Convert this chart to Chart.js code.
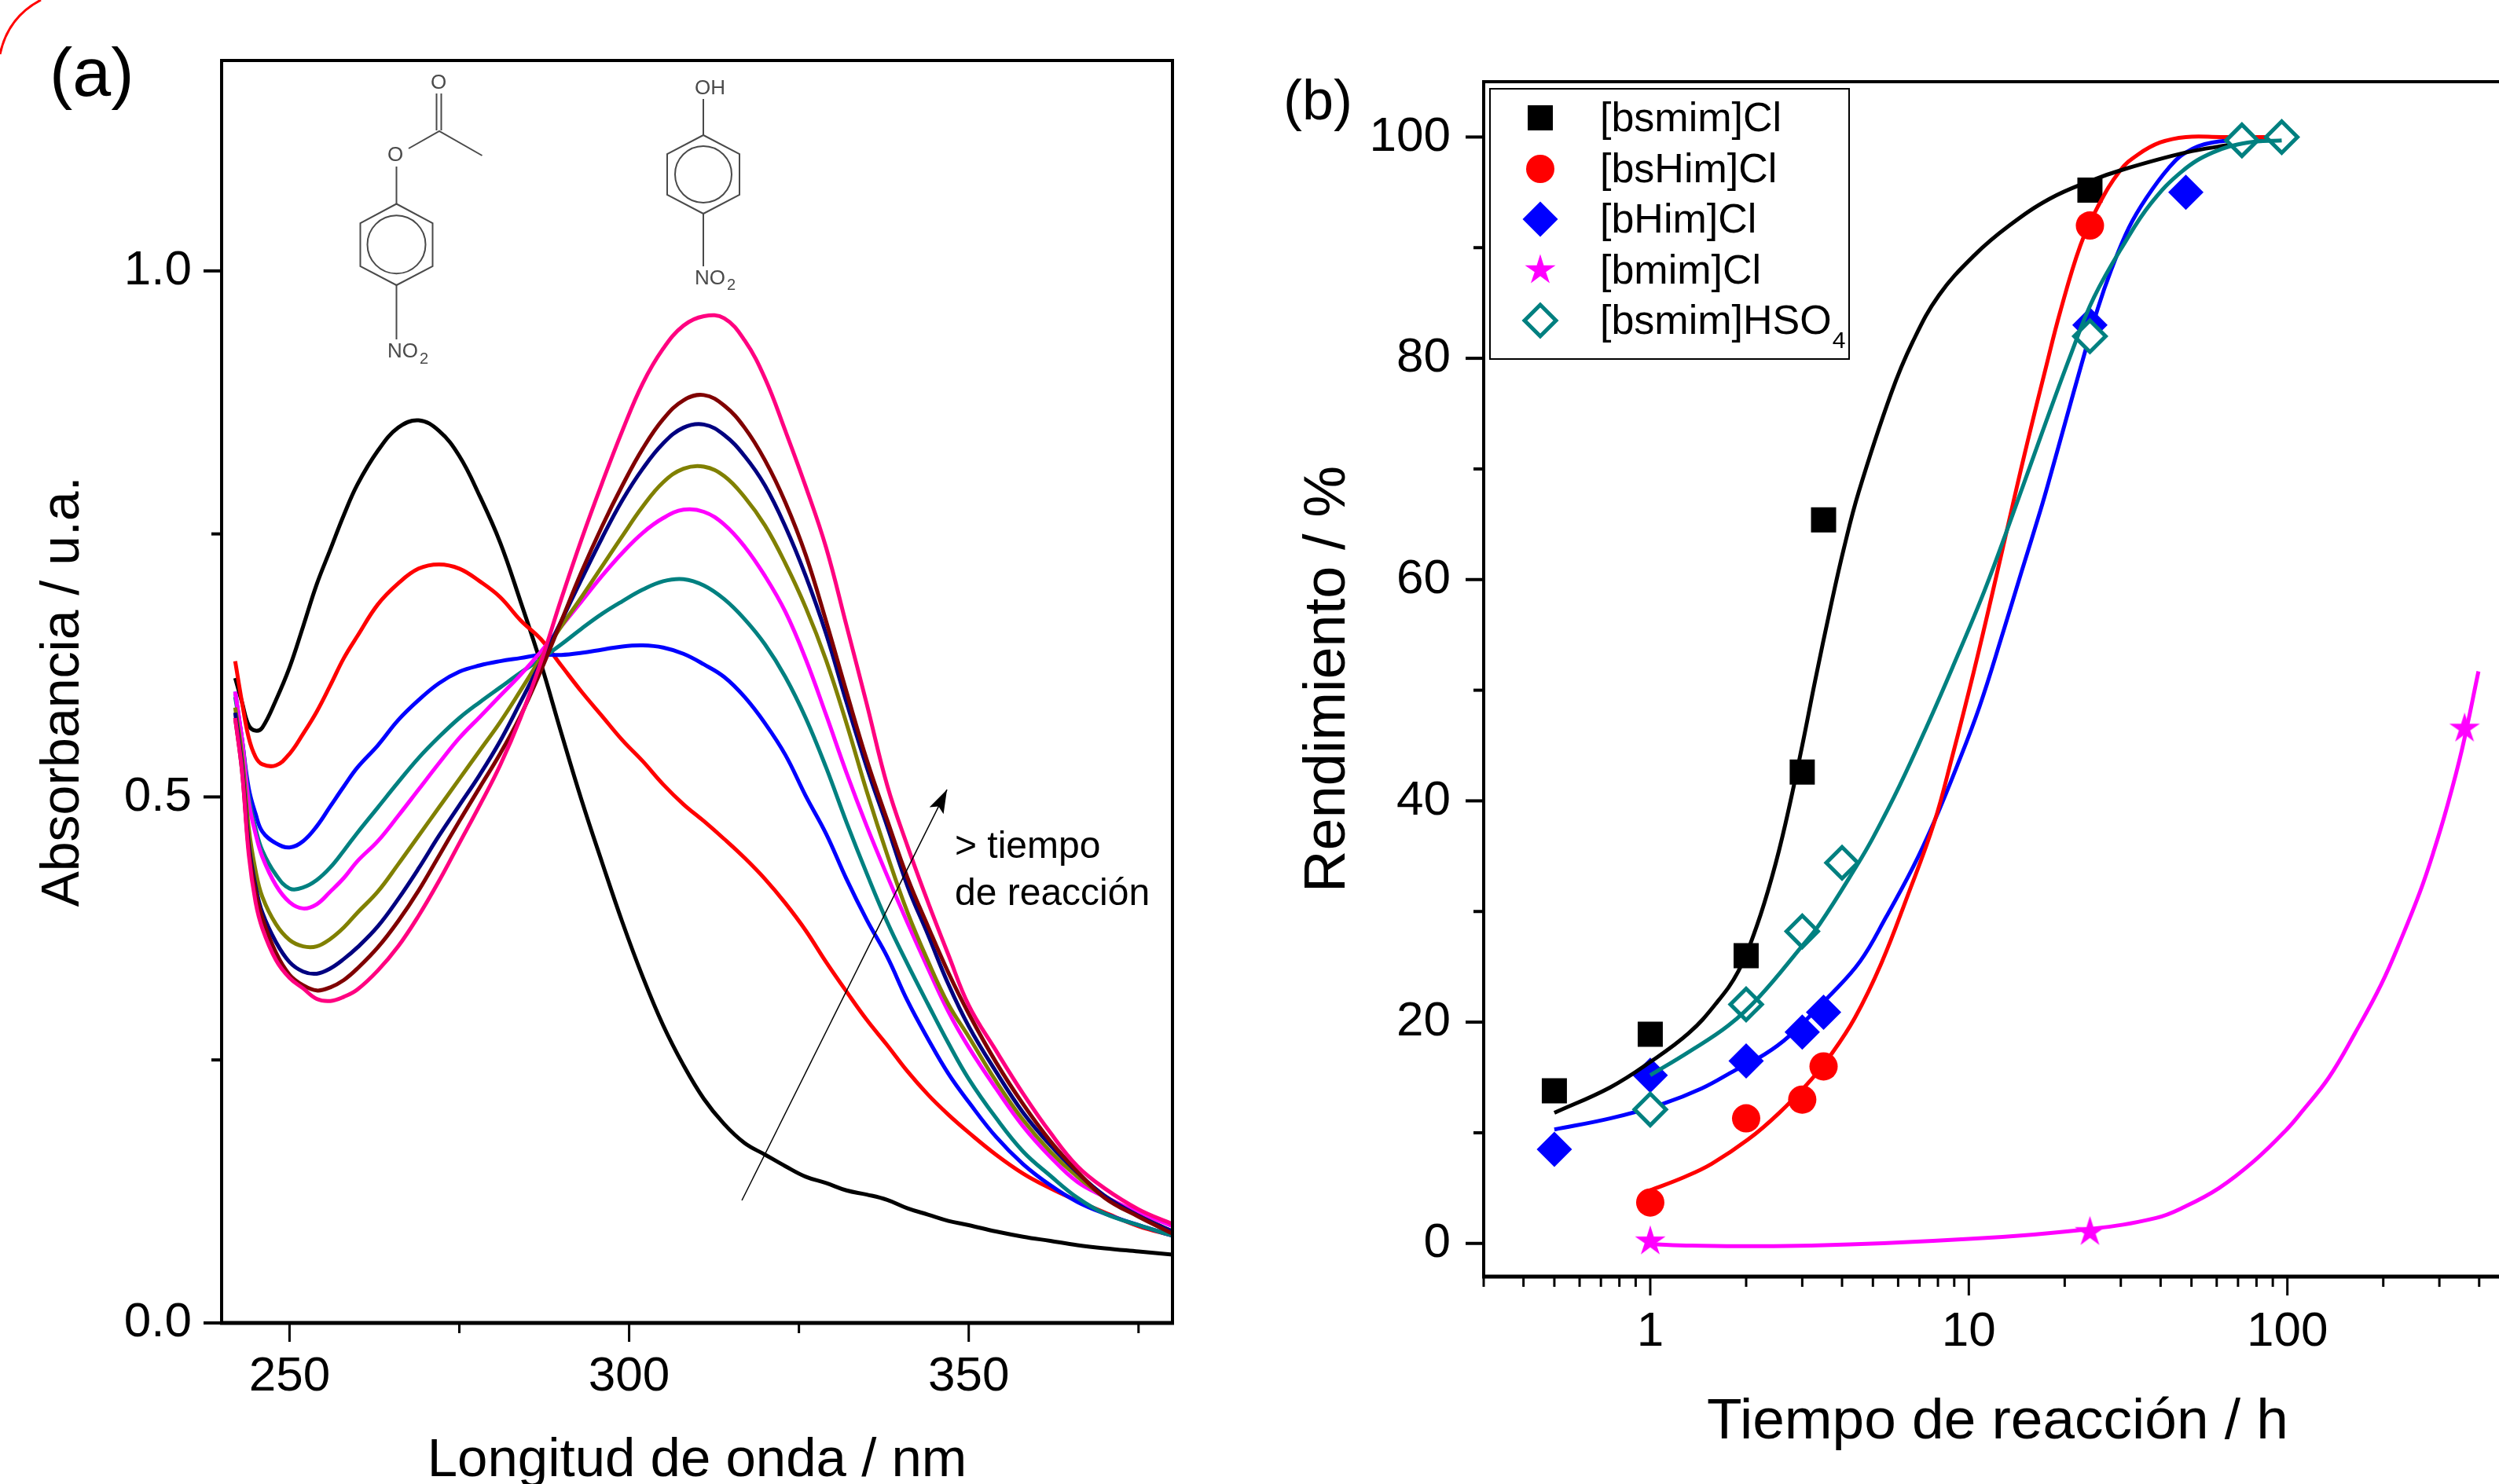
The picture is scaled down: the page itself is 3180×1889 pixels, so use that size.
<!DOCTYPE html>
<html>
<head>
<meta charset="utf-8">
<title>Absorbancia y rendimiento</title>
<script src="https://cdn.jsdelivr.net/npm/chart.js@4/dist/chart.umd.js"></script>
<style>
  html, body { margin: 0; padding: 0; background: #fff; overflow: hidden; width: 3180px; height: 1889px; }
  canvas { position: absolute; top: 0; }
  #panelA { left: 0; }
  #panelB { left: 1600px; }
</style>
</head>
<body>
<canvas id="panelA" width="1600" height="1889"></canvas>
<canvas id="panelB" width="1621" height="1889"></canvas>
<script>
// panel (a): spectra, all curves share the same wavelengths
const wavelengths = [242, 243, 244, 245, 246, 248, 250, 252, 254, 256,
  258, 260, 263, 266, 269, 272, 275, 278, 281, 284,
  287, 290, 293, 296, 299, 302, 305, 308, 311, 314,
  317, 320, 323, 326, 329, 332, 335, 338, 341, 344,
  347, 350, 354, 358, 362, 366, 370, 375, 380];
const absBlack = [.613, .590, .568, .563, .566, .592, .623, .662, .702, .735,
  .768, .797, .829, .851, .858, .848, .824, .786, .742, .686,
  .627, .561, .497, .438, .381, .329, .283, .245, .213, .189,
  .171, .160, .149, .139, .133, .126, .122, .117, .109, .103,
  .097, .093, .087, .082, .078, .074, .071, .068, .065];
const absRed = [.629, .590, .556, .538, .531, .530, .541, .560, .581, .606,
  .632, .653, .683, .703, .717, .721, .717, .705, .690, .668,
  .650, .625, .600, .577, .554, .534, .512, .493, .477, .460,
  .442, .422, .399, .373, .343, .315, .288, .264, .239, .217,
  .198, .181, .160, .142, .128, .116, .105, .092, .083];
const absBlue = [.600, .555, .508, .484, .467, .456, .452, .458, .472, .491,
  .510, .528, .549, .573, .592, .608, .619, .625, .629, .632,
  .635, .635, .637, .640, .643, .644, .642, .636, .626, .614,
  .595, .570, .540, .501, .465, .422, .383, .348, .306, .270,
  .237, .210, .177, .151, .131, .115, .104, .093, .083];
const absTeal = [.595, .555, .500, .470, .449, .426, .413, .414, .421, .433,
  .449, .466, .490, .514, .537, .557, .575, .590, .604, .618,
  .631, .645, .660, .674, .686, .697, .705, .707, .701, .688,
  .669, .645, .614, .575, .528, .476, .427, .381, .341, .303,
  .266, .232, .195, .163, .140, .119, .104, .093, .083];
const absMagenta = [.600, .555, .495, .465, .443, .416, .400, .394, .398, .410,
  .423, .439, .458, .482, .507, .532, .556, .576, .596, .616,
  .638, .662, .686, .710, .732, .751, .765, .773, .771, .759,
  .738, .710, .676, .631, .578, .523, .472, .425, .380, .337,
  .296, .262, .223, .187, .158, .134, .120, .105, .092];
const absOlive = [.585, .540, .470, .430, .405, .379, .364, .358, .358, .365,
  .376, .390, .410, .436, .463, .490, .517, .544, .571, .601,
  .632, .662, .690, .719, .748, .776, .799, .812, .814, .805,
  .785, .758, .722, .680, .630, .570, .505, .445, .390, .344,
  .303, .272, .230, .193, .163, .139, .120, .102, .087];
const absNavy = [.580, .530, .455, .415, .390, .362, .343, .334, .332, .337,
  .346, .357, .377, .403, .432, .463, .492, .521, .553, .590,
  .628, .667, .707, .746, .782, .812, .836, .851, .854, .844,
  .824, .796, .757, .710, .655, .590, .528, .472, .415, .369,
  .322, .282, .239, .200, .169, .143, .121, .102, .087];
const absMaroon = [.575, .525, .450, .410, .385, .352, .331, .321, .316, .319,
  .326, .337, .357, .382, .411, .444, .477, .509, .541, .577,
  .620, .667, .714, .757, .796, .831, .859, .877, .882, .872,
  .851, .820, .780, .730, .667, .600, .535, .478, .423, .377,
  .333, .294, .248, .208, .173, .144, .119, .101, .085];
const absPink = [.575, .525, .445, .400, .375, .345, .328, .318, .308, .306,
  .310, .317, .335, .358, .387, .420, .456, .492, .530, .575,
  .628, .688, .745, .798, .848, .893, .926, .948, .957, .955,
  .934, .898, .848, .795, .737, .663, .588, .511, .453, .400,
  .350, .302, .259, .218, .181, .149, .128, .108, .094];
const arrowX = [316.6, 346.8];
const arrowY = [0.1165, 0.507];
const xTicksA = [250, 275, 300, 325, 350, 375];
const xLabelsA = [250, 300, 350];
const yTicksA = [0, 0.25, 0.5, 0.75, 1];
const yLabelsA = [0, 0.5, 1];

// panel (b): measured points
const seriesNames = ["[bsmim]Cl", "[bsHim]Cl", "[bHim]Cl", "[bmim]Cl", "[bsmim]HSO"];
const bsmimClT = [0.5, 1, 2, 3, 3.5, 24];
const bsmimClY = [13.8, 18.9, 26, 42.6, 65.4, 95.2];
const bsHimClT = [1, 2, 3, 3.5, 24];
const bsHimClY = [3.7, 11.3, 13, 16, 92];
const bHimClT = [0.5, 1, 2, 3, 3.5, 24, 48];
const bHimClY = [8.5, 15.2, 16.5, 19.1, 20.9, 83, 95];
const bmimClT = [1, 24, 360];
const bmimClY = [0.25, 1.1, 46.6];
const hso4T = [1, 2, 3, 4, 24, 72, 96];
const hso4Y = [12.1, 21.6, 28.2, 34.4, 82, 99.7, 100];

// panel (b): fitted curves
const fitBlackT = [0.5, 0.748, 1, 1.32, 1.6, 1.89, 2.16, 2.42, 2.66, 3, 3.29, 3.7, 4.06, 4.51, 5.7, 6.67, 8.06, 10.4, 13.4, 17.9, 23.9, 30.8, 48, 66];
const fitBlackY = [11.8, 14.1, 16.4, 19, 21.6, 24.6, 28.7, 33.3, 38, 45, 50.8, 57.8, 62.9, 67.9, 76.8, 81.5, 85.7, 89.3, 92, 94.4, 96, 97.1, 98.6, 99.3];
const fitRedT = [1, 1.28, 1.56, 2.03, 2.54, 3.2, 3.66, 4.39, 5.31, 6.42, 7.78, 8.87, 10.35, 11.8, 13.9, 15.3, 17.4, 19.4, 22.4, 25.4, 29.9, 33.9, 39.8, 48, 62, 90];
const fitRedY = [4.8, 6, 7.2, 9.4, 11.8, 14.8, 16.9, 20.4, 25.3, 31.4, 38, 44, 51.6, 58.5, 67.4, 72.5, 79, 84.3, 90.2, 93.7, 97, 98.4, 99.5, 100, 100, 100];
const fitBlueT = [0.5, 0.748, 1.09, 1.45, 1.86, 2.29, 2.72, 3.66, 4.56, 5.5, 6.68, 7.78, 9.2, 10.8, 12.8, 14.6, 16.8, 18, 20.3, 22.4, 25.4, 28, 31.8, 36.1, 42.4, 48, 58, 85.5];
const fitBlueY = [10.3, 11.3, 12.6, 14, 15.7, 17.1, 18.7, 22.4, 25.5, 29.5, 34, 38.1, 43.2, 48.5, 55.2, 60.6, 66.3, 69.3, 74.7, 79.1, 84.5, 88, 91.8, 94.5, 97.2, 98.6, 99.5, 99.8];
const fitMagentaT = [1, 1.35, 3.2, 10, 24, 38.7, 47.5, 61, 79, 99.5, 111, 135, 163, 197, 229, 261, 287, 316, 353, 398];
const fitMagentaY = [-0.05, -0.2, -0.2, 0.4, 1.3, 2.3, 3.3, 5, 7.5, 10.3, 11.9, 15, 19, 23.4, 27.7, 31.8, 35.3, 39.3, 44.6, 51.7];
const fitTealT = [1, 1.32, 1.76, 2.2, 2.98, 3.41, 4.44, 5.01, 6.07, 7.48, 8.87, 11.2, 13.7, 16.8, 21, 24.7, 30.8, 37.3, 46.7, 58.3, 75, 96];
const fitTealY = [15.2, 17.3, 19.7, 22.3, 26.8, 28.9, 34.1, 36.7, 41.4, 47.1, 52, 59, 65.8, 72.9, 80.5, 85.5, 90.4, 94, 96.9, 98.6, 99.5, 99.7];

const xTicksB = [0.3, 0.4, 0.5, 0.6, 0.7, 0.8, 0.9, 1, 2, 3, 4, 5, 6, 7, 8, 9, 10, 20, 30, 40, 50, 60, 70, 80, 90, 100, 200, 300, 400];
const xLabelsB = [1, 10, 100];
const yTicksB = [0, 10, 20, 30, 40, 50, 60, 70, 80, 90, 100];
const yLabelsB = [0, 20, 40, 60, 80, 100];

Chart.defaults.font.family = '"Liberation Sans", Arial, sans-serif';
Chart.defaults.color = "#000";

const pairs = (xs, ys) => xs.map((x, i) => ({ x: x, y: ys[i] }));

function curve(xs, ys, color, width, order) {
  return {
    data: pairs(xs, ys), showLine: true, borderColor: color, borderWidth: width,
    pointRadius: 0, tension: 0.4, order: order, borderJoinStyle: "round"
  };
}

function markers(xs, ys, style, radius, color, order, hollow) {
  return {
    data: pairs(xs, ys), showLine: false, pointStyle: style, pointRadius: radius,
    backgroundColor: hollow ? "#fff" : color, borderColor: color,
    pointBorderWidth: hollow ? 5 : 0, order: order
  };
}

function starImage(color) {
  const c = document.createElement("canvas");
  c.width = 44;
  c.height = 44;
  const g = c.getContext("2d");
  g.fillStyle = color;
  g.beginPath();
  for (let i = 0; i < 10; i++) {
    const r = i % 2 ? 7.6 : 20.5;
    const a = -Math.PI / 2 + i * Math.PI / 5;
    g.lineTo(22 + r * Math.cos(a), 23 + r * Math.sin(a));
  }
  g.closePath();
  g.fill();
  return c;
}

// linear/log axis with a fixed list of ticks, labels only on some of them
function axis(type, min, max, tickList, labelList, fmt, title, titleFont, titlePad, boxSize, tickPad) {
  const horizontal = boxSize.height !== undefined;
  return {
    type: type, min: min, max: max,
    grid: { display: false, drawTicks: false }, border: { display: false },
    afterBuildTicks: s => { s.ticks = tickList.map(v => ({ value: v })); },
    afterFit: s => {
      if (horizontal) s.height = boxSize.height; else s.width = boxSize.width;
      s.paddingLeft = s.paddingRight = s.paddingTop = s.paddingBottom = 0;
    },
    ticks: {
      autoSkip: false, maxRotation: 0, minRotation: 0, padding: tickPad,
      font: { size: 62 },
      callback: v => labelList.includes(v) ? fmt(v) : ""
    },
    title: {
      display: true, text: title, padding: titlePad,
      font: { size: titleFont, lineHeight: 1 }
    }
  };
}

// frame round the plot, and ticks in two lengths (outward)
function framePlugin(xMajor, yMajor) {
  return {
    id: "frame",
    afterDatasetsDraw(chart) {
      const c = chart.ctx, a = chart.chartArea;
      c.save();
      c.strokeStyle = "#000";
      const seg = (x1, y1, x2, y2, w) => {
        c.lineWidth = w;
        c.beginPath();
        c.moveTo(x1, y1);
        c.lineTo(x2, y2);
        c.stroke();
      };
      seg(a.left - 2, a.top, a.right + 2, a.top, 4);
      seg(a.left, a.top, a.left, a.bottom, 4);
      seg(a.right, a.top, a.right, a.bottom, 4);
      seg(a.left - 2, a.bottom, a.right + 2, a.bottom, 5);
      chart.scales.x.ticks.forEach(t => {
        const p = chart.scales.x.getPixelForValue(t.value);
        seg(p, a.bottom, p, a.bottom + (xMajor.includes(t.value) ? 24 : 13), 3);
      });
      chart.scales.y.ticks.forEach(t => {
        const p = chart.scales.y.getPixelForValue(t.value);
        seg(a.left, p, a.left - (yMajor.includes(t.value) ? 23 : 13), p, 4);
      });
      c.restore();
    }
  };
}

function poly(c, pts, close) {
  c.beginPath();
  pts.forEach((p, i) => i ? c.lineTo(p[0], p[1]) : c.moveTo(p[0], p[1]));
  if (close) c.closePath();
  c.stroke();
}

function benzene(c, cx, top, hw, h1, h2, bottom, r) {
  poly(c, [[cx, top], [cx + hw, h1], [cx + hw, h2], [cx, bottom], [cx - hw, h2], [cx - hw, h1]], true);
  c.beginPath();
  c.arc(cx, (top + bottom) / 2, r, 0, Math.PI * 2);
  c.stroke();
}

function no2(c, x, y, subY) {
  c.font = '26px "Liberation Sans"';
  c.fillText("NO", x, y);
  c.font = '20px "Liberation Sans"';
  c.fillText("2", x + 41, subY);
}

// panel (a) extras: structures, arrow head, notes
const annotationsA = {
  id: "annotationsA",
  afterDatasetsDraw(chart) {
    const c = chart.ctx;
    c.save();
    c.fillStyle = "#000";
    c.textBaseline = "alphabetic";
    c.textAlign = "left";
    c.font = '88px "Liberation Sans"';
    c.fillText("(a)", 63, 122);
    c.font = '48px "Liberation Sans"';
    c.fillText("> tiempo", 1215, 1092);
    c.fillText("de reacción", 1215, 1152);

    // arrow head on the library's scales
    const sx = chart.scales.x, sy = chart.scales.y;
    const tx = sx.getPixelForValue(arrowX[1]), ty = sy.getPixelForValue(arrowY[1]);
    const ang = Math.atan2(ty - sy.getPixelForValue(arrowY[0]), tx - sx.getPixelForValue(arrowX[0]));
    c.translate(tx, ty);
    c.rotate(ang);
    c.beginPath();
    c.moveTo(0, 0);
    c.lineTo(-30, 10);
    c.lineTo(-24, 0);
    c.lineTo(-30, -10);
    c.closePath();
    c.fill();
    c.restore();

    c.save();
    c.strokeStyle = "#4a4a4a";
    c.fillStyle = "#4a4a4a";
    c.lineWidth = 2;
    // 4-nitrophenyl acetate
    benzene(c, 504.5, 259.5, 46, 284, 339, 363, 37);
    poly(c, [[504.5, 212], [504.5, 259.5]]);
    poly(c, [[504.5, 363], [504.5, 432]]);
    poly(c, [[520, 189], [559, 167], [613.5, 198]]);
    poly(c, [[555.5, 119], [555.5, 166]]);
    poly(c, [[561.5, 119], [561.5, 166]]);
    // 4-nitrophenol
    benzene(c, 895, 172, 46, 196, 248, 272, 36);
    poly(c, [[895, 126], [895, 172]]);
    poly(c, [[895, 272], [895, 339]]);
    c.textBaseline = "alphabetic";
    c.font = '26px "Liberation Sans"';
    c.fillText("O", 548, 113);
    c.fillText("O", 493, 205);
    c.fillText("OH", 884, 120);
    no2(c, 493, 455, 463);
    no2(c, 884, 362, 369);
    // red corner arc
    c.strokeStyle = "#f00";
    c.lineWidth = 3;
    c.beginPath();
    c.moveTo(0, 69);
    c.quadraticCurveTo(10, 22, 52, 0);
    c.stroke();
    c.restore();
  }
};

const starPoint = starImage("#ff00ff");

// panel (b) extras: legend box and label
const annotationsB = {
  id: "annotationsB",
  afterDatasetsDraw(chart) {
    const c = chart.ctx;
    c.save();
    c.fillStyle = "#000";
    c.textAlign = "left";
    c.textBaseline = "alphabetic";
    c.font = '72px "Liberation Sans"';
    c.fillText("(b)", 33, 152);

    c.strokeStyle = "#000";
    c.lineWidth = 2;
    c.strokeRect(296, 113, 457, 344);
    const rowMark = [150, 215, 279, 343, 408];
    const rowText = [167, 232, 296, 361, 425];
    const styles = [
      { pointStyle: "rect", radius: 22.6, fill: "#000", stroke: "#000", w: 0 },
      { pointStyle: "circle", radius: 18, fill: "#f00", stroke: "#f00", w: 0 },
      { pointStyle: "rectRot", radius: 22.5, fill: "#00f", stroke: "#00f", w: 0 },
      null,
      { pointStyle: "rectRot", radius: 20, fill: "#fff", stroke: "#008080", w: 5 }
    ];
    seriesNames.forEach((name, i) => {
      c.save();
      if (styles[i]) {
        c.fillStyle = styles[i].fill;
        c.strokeStyle = styles[i].stroke;
        c.lineWidth = styles[i].w;
        Chart.helpers.drawPoint(c, { pointStyle: styles[i].pointStyle, radius: styles[i].radius, rotation: 0, borderWidth: styles[i].w }, 360, rowMark[i]);
      } else {
        c.drawImage(starPoint, 360 - 22, rowMark[i] - 22);
      }
      c.restore();
      c.font = '52px "Liberation Sans"';
      c.fillText(name, 436, rowText[i]);
    });
    const w = c.measureText(seriesNames[4]).width;
    c.font = '30px "Liberation Sans"';
    c.fillText("4", 436 + w + 1, 443);
    c.restore();
  }
};

const spectraColors = ["#000000", "#ff0000", "#0000ff", "#008080", "#ff00ff", "#808000", "#000080", "#800000", "#ff0080"];
const spectra = [absBlack, absRed, absBlue, absTeal, absMagenta, absOlive, absNavy, absMaroon, absPink];

new Chart(document.getElementById("panelA").getContext("2d"), {
  type: "scatter",
  data: {
    datasets: spectra.map((ys, i) => curve(wavelengths, ys, spectraColors[i], 5, -i))
      .concat([{
        data: pairs(arrowX, arrowY), showLine: true, borderColor: "#000", borderWidth: 1.5,
        pointRadius: 0, order: -20
      }])
  },
  options: {
    responsive: false, animation: false, devicePixelRatio: 1,
    layout: { padding: { top: 77, right: 108, left: 0, bottom: 0 } },
    plugins: { legend: { display: false }, tooltip: { enabled: false } },
    scales: {
      x: axis("linear", 240, 380, xTicksA, xLabelsA, v => String(v), "Longitud de onda / nm", 69, { bottom: -5, top: 0 }, { height: 205 }, 32),
      y: axis("linear", 0, 1.2, yTicksA, yLabelsA, v => v.toFixed(1), "Absorbancia / u.a.", 68, { top: 47, bottom: 0 }, { width: 282 }, 38)
    }
  },
  plugins: [framePlugin(xLabelsA, yLabelsA), annotationsA]
});

new Chart(document.getElementById("panelB").getContext("2d"), {
  type: "scatter",
  data: {
    datasets: [
      markers(bHimClT, bHimClY, "rectRot", 22.5, "#0000ff", 10),
      markers(bsmimClT, bsmimClY, "rect", 22.6, "#000000", 8),
      markers(bsHimClT, bsHimClY, "circle", 18, "#ff0000", 8),
      markers(bmimClT, bmimClY, starPoint, 22, "#ff00ff", 8),
      curve(fitBlueT, fitBlueY, "#0000ff", 5, 7),
      curve(fitRedT, fitRedY, "#ff0000", 5, 6),
      curve(fitBlackT, fitBlackY, "#000000", 5, 5),
      curve(fitMagentaT, fitMagentaY, "#ff00ff", 5, 4),
      markers(hso4T, hso4Y, "rectRot", 20, "#008080", 3, true),
      curve(fitTealT, fitTealY, "#008080", 5, 2)
    ]
  },
  options: {
    responsive: false, animation: false, devicePixelRatio: 1,
    layout: { padding: { top: 104, right: 0, left: 0, bottom: 0 } },
    plugins: { legend: { display: false }, tooltip: { enabled: false } },
    scales: {
      x: axis("logarithmic", 0.3, 505.6, xTicksB, xLabelsB, v => String(v), "Tiempo de reacción / h", 73, { bottom: 42, top: 0 }, { height: 264 }, 34),
      y: axis("linear", -3, 105, yTicksB, yLabelsB, v => String(v), "Rendimiento / %", 74, { top: 54, bottom: 0 }, { width: 288 }, 42)
    }
  },
  plugins: [framePlugin(xLabelsB, yLabelsB), annotationsB]
});
</script>
</body>
</html>
